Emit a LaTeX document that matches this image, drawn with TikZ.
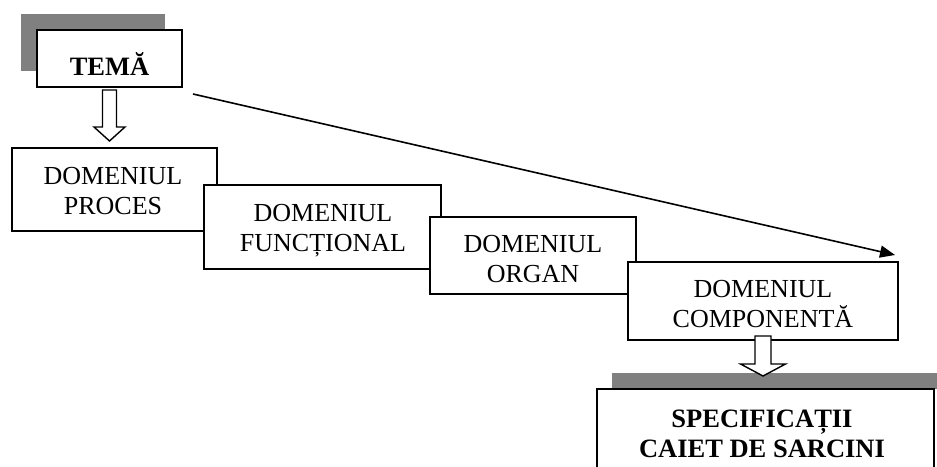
\documentclass[tikz,border=0pt]{standalone}
\usepackage{fontspec}
\setmainfont{Liberation Serif}
\usetikzlibrary{arrows.meta}

\tikzset{
  shadowbox/.style={fill=black!50, draw=none},
  framebox/.style={draw=black, line width=2pt, fill=white, inner sep=0pt, rectangle},
  caption/.style={inner sep=0pt, align=center, anchor=base, font=\fontsize{26}{30}\selectfont},
  boldcaption/.style={caption, font=\fontsize{26.5}{30}\selectfont\bfseries},
  flow/.style={draw=black, line width=1.6pt, -{Triangle[length=15pt,width=12pt]}},
  hollow/.style={draw=black, line width=1.4pt, fill=white, line join=miter},
  hollowdown/.pic={
    \path[hollow] (-#1,0) -- (#1,0) -- (#1,\pgfkeysvalueof{/tikz/hb})
      -- (\pgfkeysvalueof{/tikz/hw},\pgfkeysvalueof{/tikz/hb})
      -- (0,\pgfkeysvalueof{/tikz/ht})
      -- (-\pgfkeysvalueof{/tikz/hw},\pgfkeysvalueof{/tikz/hb})
      -- (-#1,\pgfkeysvalueof{/tikz/hb}) -- cycle;
  },
  hb/.initial=37, hw/.initial=15.5, ht/.initial=51,
}

\begin{document}
\begin{tikzpicture}[x=1pt, y=-1pt]
  \useasboundingbox (0,0) rectangle (937,466);
  \clip (0,0) rectangle (937,466);

  % topic box with its offset shadow
  \path[shadowbox] (21,14) rectangle (165,71);
  \node[framebox, minimum width=145pt, minimum height=57pt] (tema) at (109.5,58.5) {};
  \node[boldcaption] (temaT) at (109.5,75) {TEMĂ};

  % the four staggered domains, each one laid over the previous
  \node[framebox, minimum width=205pt, minimum height=83pt] (proc) at (114.5,189.5) {};
  \node[caption] (procT) at (113,214) {DOMENIUL\\PROCES};

  \node[framebox, minimum width=237pt, minimum height=84pt] (func) at (322.5,227) {};
  \node[caption] (funcT) at (323,251) {DOMENIUL\\FUNCȚIONAL};

  \node[framebox, minimum width=206pt, minimum height=77pt] (organ) at (533,255.5) {};
  \node[caption] (organT) at (533,282) {DOMENIUL\\ORGAN};

  \node[framebox, minimum width=270pt, minimum height=78pt] (comp) at (763,301) {};
  \node[caption] (compT) at (763,327) {DOMENIUL\\COMPONENTĂ};

  % result box with its shadow band
  \path[shadowbox] (612,373) rectangle (945,389);
  \node[framebox, minimum width=337pt, minimum height=92pt] (spec) at (765.5,435) {};
  \node[boldcaption] (specT) at (762,457) {SPECIFICAȚII\\CAIET DE SARCINI};

  % hollow block arrows
  \pic at ([yshift=-2pt]tema.south) {hollowdown=7};
  \begin{scope}[hb=28, hw=22.5, ht=40]
    \pic at ([yshift=5pt]comp.south) {hollowdown=8};
  \end{scope}

  % long arrow from the topic to the component domain
  \coordinate (from) at (193,94);
  \coordinate (to) at (895,255);
  \draw[flow] (from) -- (to);
\end{tikzpicture}
\end{document}
